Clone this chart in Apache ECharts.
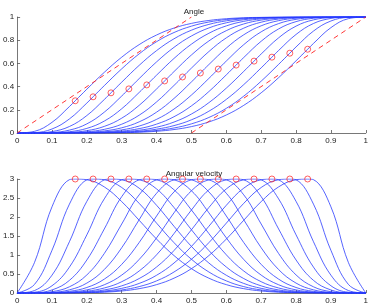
<!DOCTYPE html>
<html><head><meta charset="utf-8">
<script src="https://cdn.jsdelivr.net/npm/echarts@6/dist/echarts.min.js"></script>
<style>html,body{margin:0;padding:0;background:#fff}#c{width:371px;height:305px}</style>
</head><body><div id="c"></div>
<script>
// sample positions (x) shared by all curves
const tGrid = [0,0.05,0.1,0.15,0.2,0.25,0.3,0.35,0.4,0.45,0.5,0.55,0.6,0.65,0.7,0.75,0.8,0.85,0.9,0.95,1];
const xTicks = [0,0.1,0.2,0.3,0.4,0.5,0.6,0.7,0.8,0.9,1];
const angleTicks = [0,0.2,0.4,0.6,0.8,1];
const velTicks = [0,0.5,1,1.5,2,2.5,3];

// peak-velocity points (red circles)
const peakX = [0.1667,0.2179,0.2692,0.3205,0.3718,0.4231,0.4744,0.5256,0.5769,0.6282,0.6795,0.7308,0.7821,0.8333];
const peakAngle = [0.2778,0.3120,0.3462,0.3803,0.4145,0.4487,0.4829,0.5171,0.5513,0.5855,0.6197,0.6538,0.6880,0.7222];
const peakVel = [3,3,3,3,3,3,3,3,3,3,3,3,3,3];

// dashed reference lines
const dashUpper = [[0,0],[0.5,1]];
const dashLower = [[0.5,0],[1,1]];

// angle curves, sampled on tGrid
const angle1  = [0,0.0144,0.0918,0.2279,0.3777,0.5229,0.6535,0.7617,0.8448,0.9046,0.9448,0.9702,0.9852,0.9933,0.9974,0.9991,0.9998,1,1,1,1];
const angle2  = [0,0.0033,0.0344,0.1213,0.2582,0.4082,0.5531,0.6822,0.7873,0.8662,0.9211,0.9567,0.9781,0.9900,0.9960,0.9986,0.9996,0.9999,1,1,1];
const angle3  = [0,0.0008,0.0122,0.0559,0.1505,0.2886,0.4383,0.5830,0.7103,0.8121,0.8863,0.9362,0.9671,0.9847,0.9937,0.9978,0.9994,0.9999,1,1,1];
const angle4  = [0,0.0002,0.0045,0.0247,0.0787,0.1796,0.3188,0.4689,0.6131,0.7385,0.8364,0.9056,0.9501,0.9762,0.9900,0.9964,0.9990,0.9998,1,1,1];
const angle5  = [0,0.0001,0.0017,0.0110,0.0398,0.1028,0.2090,0.3493,0.4988,0.6427,0.7660,0.8597,0.9234,0.9624,0.9838,0.9941,0.9983,0.9997,1,1,1];
const angle6  = [0,0,0.0007,0.0051,0.0201,0.0569,0.1277,0.2384,0.3796,0.5294,0.6727,0.7935,0.8824,0.9401,0.9733,0.9899,0.9970,0.9994,0.9999,1,1];
const angle7  = [0,0,0.0003,0.0025,0.0104,0.0315,0.0758,0.1534,0.2680,0.4100,0.5596,0.7023,0.8202,0.9039,0.9552,0.9823,0.9945,0.9988,0.9999,1,1];
const angle8  = [0,0,0.0001,0.0012,0.0055,0.0177,0.0448,0.0961,0.1798,0.2977,0.4404,0.5900,0.7320,0.8466,0.9242,0.9685,0.9896,0.9975,0.9997,1,1];
const angle9  = [0,0,0.0001,0.0006,0.0030,0.0101,0.0267,0.0599,0.1176,0.2065,0.3273,0.4706,0.6204,0.7616,0.8723,0.9431,0.9799,0.9949,0.9993,1,1];
const angle10 = [0,0,0,0.0003,0.0017,0.0059,0.0162,0.0376,0.0766,0.1403,0.2340,0.3573,0.5012,0.6507,0.7910,0.8972,0.9602,0.9890,0.9983,0.9999,1];
const angle11 = [0,0,0,0.0002,0.0010,0.0036,0.0100,0.0238,0.0499,0.0944,0.1636,0.2615,0.3869,0.5311,0.6812,0.8204,0.9213,0.9753,0.9955,0.9998,1];
const angle12 = [0,0,0,0.0001,0.0006,0.0022,0.0063,0.0153,0.0329,0.0638,0.1137,0.1879,0.2897,0.4170,0.5617,0.7114,0.8495,0.9441,0.9878,0.9992,1];
const angle13 = [0,0,0,0.0001,0.0004,0.0014,0.0040,0.0100,0.0219,0.0433,0.0789,0.1338,0.2127,0.3178,0.4469,0.5918,0.7418,0.8787,0.9656,0.9967,1];
const angle14 = [0,0,0,0,0.0002,0.0009,0.0026,0.0067,0.0148,0.0298,0.0552,0.0954,0.1552,0.2383,0.3465,0.4771,0.6223,0.7721,0.9082,0.9856,1];

// angular velocity curves, sampled on tGrid
const vel1  = [0,0.807,2.268,2.982,2.981,2.792,2.405,1.914,1.419,0.985,0.641,0.390,0.220,0.114,0.053,0.021,0.007,0.002,0,0,0];
const vel2  = [0,0.227,1.123,2.338,2.979,2.981,2.777,2.359,1.838,1.325,0.888,0.553,0.319,0.168,0.080,0.033,0.011,0.003,0,0,0];
const vel3  = [0,0.065,0.469,1.349,2.412,2.978,2.980,2.759,2.308,1.756,1.226,0.789,0.467,0.252,0.122,0.051,0.017,0.004,0.001,0,0];
const vel4  = [0,0.020,0.191,0.681,1.531,2.477,2.978,2.980,2.739,2.250,1.664,1.118,0.684,0.380,0.188,0.081,0.029,0.007,0.001,0,0];
const vel5  = [0,0.007,0.080,0.332,0.870,1.685,2.535,2.978,2.980,2.717,2.185,1.564,1.005,0.579,0.297,0.132,0.048,0.013,0.002,0,0];
const vel6  = [0,0.002,0.035,0.163,0.476,1.039,1.815,2.583,2.978,2.979,2.690,2.110,1.451,0.882,0.471,0.217,0.082,0.023,0.004,0,0];
const vel7  = [0,0.001,0.016,0.083,0.261,0.617,1.191,1.928,2.625,2.978,2.979,2.660,2.026,1.328,0.753,0.365,0.145,0.043,0.008,0,0];
const vel8  = [0,0,0.008,0.043,0.145,0.365,0.753,1.328,2.026,2.660,2.979,2.978,2.625,1.928,1.191,0.617,0.261,0.083,0.016,0.001,0];
const vel9  = [0,0,0.004,0.023,0.082,0.217,0.471,0.882,1.451,2.110,2.690,2.979,2.978,2.583,1.815,1.039,0.476,0.163,0.035,0.002,0];
const vel10 = [0,0,0.002,0.013,0.048,0.132,0.297,0.579,1.005,1.564,2.185,2.717,2.980,2.978,2.535,1.685,0.870,0.332,0.080,0.007,0];
const vel11 = [0,0,0.001,0.007,0.029,0.081,0.188,0.380,0.684,1.118,1.664,2.250,2.739,2.980,2.978,2.477,1.531,0.681,0.191,0.020,0];
const vel12 = [0,0,0.001,0.004,0.017,0.051,0.122,0.252,0.467,0.789,1.226,1.756,2.308,2.759,2.980,2.978,2.412,1.349,0.469,0.065,0];
const vel13 = [0,0,0,0.003,0.011,0.033,0.080,0.168,0.319,0.553,0.888,1.325,1.838,2.359,2.777,2.981,2.979,2.338,1.123,0.227,0];
const vel14 = [0,0,0,0.002,0.007,0.021,0.053,0.114,0.220,0.390,0.641,0.985,1.419,1.914,2.405,2.792,2.981,2.982,2.268,0.807,0];

const angles = [angle1,angle2,angle3,angle4,angle5,angle6,angle7,angle8,angle9,angle10,angle11,angle12,angle13,angle14];
const vels = [vel1,vel2,vel3,vel4,vel5,vel6,vel7,vel8,vel9,vel10,vel11,vel12,vel13,vel14];

const BLUE = '#2b3cff';
const RED = '#ff2020';
const FONT = 'Liberation Sans';

function curve(values, px, py) {
  const pts = tGrid.map((x, i) => [x, values[i]]);
  pts.push([px, py]);
  pts.sort((a, b) => a[0] - b[0]);
  return pts;
}

const series = [];
angles.forEach((arr, k) => {
  series.push({type:'line', xAxisIndex:0, yAxisIndex:0, data: curve(arr, peakX[k], peakAngle[k]),
    smooth: 0.4, showSymbol:false, lineStyle:{color:BLUE, width:0.8}, z:2, silent:true});
});
[dashUpper, dashLower].forEach(d => {
  series.push({type:'line', xAxisIndex:0, yAxisIndex:0, data:d, showSymbol:false,
    lineStyle:{color:RED, width:0.9, type:[5,4]}, z:3, silent:true});
});
series.push({type:'scatter', xAxisIndex:0, yAxisIndex:0, data: peakX.map((x,i)=>[x, peakAngle[i]]),
  symbol:'circle', symbolSize:6, itemStyle:{color:'rgba(0,0,0,0)', borderColor:RED, borderWidth:0.9}, z:4, silent:true});
vels.forEach((arr, k) => {
  series.push({type:'line', xAxisIndex:1, yAxisIndex:1, data: curve(arr, peakX[k], peakVel[k]),
    smooth: 0.4, showSymbol:false, lineStyle:{color:BLUE, width:0.8}, z:2, silent:true});
});
series.push({type:'scatter', xAxisIndex:1, yAxisIndex:1, data: peakX.map((x,i)=>[x, peakVel[i]]),
  symbol:'circle', symbolSize:6, itemStyle:{color:'rgba(0,0,0,0)', borderColor:RED, borderWidth:0.9}, z:4, silent:true});

function xAxisDef(gi) {
  return {type:'value', gridIndex:gi, min:0, max:1, interval:0.1,
    axisLine:{show:true, onZero:false, lineStyle:{color:'#555', width:0.8}},
    axisTick:{show:true, inside:true, length:3, lineStyle:{color:'#555', width:0.8}},
    axisLabel:{fontFamily:FONT, fontSize:8, color:'#222', margin:4,
      formatter: v => { const t = xTicks.find(q => Math.abs(q - v) < 1e-6); return t === undefined ? '' : String(t); }},
    splitLine:{show:false}};
}
function yAxisDef(gi, max, interval, ticks) {
  return {type:'value', gridIndex:gi, min:0, max:max, interval:interval,
    axisLine:{show:true, onZero:false, lineStyle:{color:'#555', width:0.8}},
    axisTick:{show:true, inside:true, length:3, lineStyle:{color:'#555', width:0.8}},
    axisLabel:{fontFamily:FONT, fontSize:8, color:'#222', margin:3,
      formatter: v => { const t = ticks.find(q => Math.abs(q - v) < 1e-6); return t === undefined ? '' : String(t); }},
    splitLine:{show:false}};
}

const chart = echarts.init(document.getElementById('c'), null, {renderer:'canvas'});
chart.setOption({
  animation:false,
  backgroundColor:'#ffffff',
  title:[
    {text:'Angle', left:189, top:3, textAlign:'center', textStyle:{fontFamily:FONT, fontSize:8, fontWeight:'normal', color:'#222'}},
    {text:'Angular velocity', left:189, top:165, textAlign:'center', textStyle:{fontFamily:FONT, fontSize:8, fontWeight:'normal', color:'#222'}}
  ],
  grid:[
    {left:13, right:5, top:17, height:116},
    {left:13, right:5, top:179, height:115}
  ],
  xAxis:[xAxisDef(0), xAxisDef(1)],
  yAxis:[yAxisDef(0, 1, 0.2, angleTicks), yAxisDef(1, 3, 0.5, velTicks)],
  series: series
});
</script></body></html>
